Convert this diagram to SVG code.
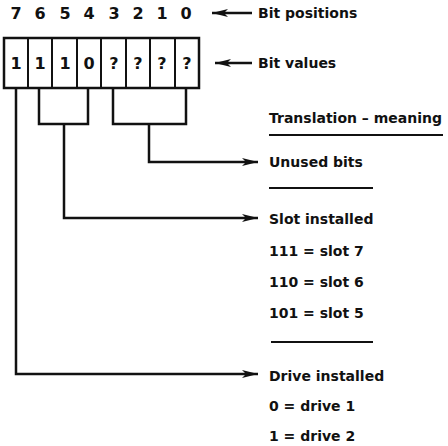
<svg xmlns="http://www.w3.org/2000/svg" width="448" height="446" viewBox="0 0 448 446">
<style>
.t{font-family:"DejaVu Sans","Liberation Sans",sans-serif;font-weight:bold;font-size:14px;fill:#111}
.d{font-family:"DejaVu Sans","Liberation Sans",sans-serif;font-weight:bold;font-size:16px;fill:#111;text-anchor:middle}
.ln{fill:none;stroke:#111;stroke-width:2.5}
.th{fill:none;stroke:#111;stroke-width:2}
</style>
<defs>
<marker id="ah" viewBox="0 0 16 8" refX="16" refY="4" markerWidth="16" markerHeight="8" markerUnits="userSpaceOnUse" orient="auto">
<path d="M0,0 L16,4 L0,8 L4,4 Z" fill="#111"/>
</marker>
</defs>
<rect width="448" height="446" fill="#fff"/>
<g id="bit-positions">
<text class="d" x="16" y="19">7</text>
<text class="d" x="40" y="19">6</text>
<text class="d" x="65" y="19">5</text>
<text class="d" x="89" y="19">4</text>
<text class="d" x="114" y="19">3</text>
<text class="d" x="138" y="19">2</text>
<text class="d" x="162" y="19">1</text>
<text class="d" x="186" y="19">0</text>
</g>
<g id="register">
<rect class="ln" x="4" y="38" width="195" height="50"/>
<path class="th" d="M28,38V88M52,38V88M77,38V88M101,38V88M126,38V88M150,38V88M175,38V88"/>
<text class="d" x="16" y="69">1</text>
<text class="d" x="40" y="69">1</text>
<text class="d" x="65" y="69">1</text>
<text class="d" x="89" y="69">0</text>
<text class="d" x="114" y="69">?</text>
<text class="d" x="138" y="69">?</text>
<text class="d" x="162" y="69">?</text>
<text class="d" x="187" y="69">?</text>
</g>
<g id="labels">
<text class="t" x="258" y="18">Bit positions</text>
<text class="t" x="258" y="68">Bit values</text>
<text class="t" x="269" y="123">Translation – meaning</text>
<line class="th" x1="269" y1="135" x2="443" y2="135"/>
<text class="t" x="269" y="167">Unused bits</text>
<line class="th" x1="269" y1="188" x2="373" y2="188"/>
<text class="t" x="269" y="224">Slot installed</text>
<text class="t" x="269" y="256">111 = slot 7</text>
<text class="t" x="269" y="287">110 = slot 6</text>
<text class="t" x="269" y="318">101 = slot 5</text>
<line class="th" x1="271" y1="342" x2="373" y2="342"/>
<text class="t" x="269" y="381">Drive installed</text>
<text class="t" x="269" y="411">0 = drive 1</text>
<text class="t" x="269" y="441">1 = drive 2</text>
</g>
<g id="connectors">
<line class="ln" x1="252" y1="13" x2="212" y2="13" marker-end="url(#ah)"/>
<line class="ln" x1="252" y1="63" x2="215" y2="63" marker-end="url(#ah)"/>
<path class="ln" d="M39,88V124H88V88"/>
<path class="ln" d="M113,88V124H186V88"/>
<path class="ln" d="M149,124V162H258" marker-end="url(#ah)"/>
<path class="ln" d="M64,124V218H258" marker-end="url(#ah)"/>
<path class="ln" d="M16,88V374H258" marker-end="url(#ah)"/>
</g>
</svg>
